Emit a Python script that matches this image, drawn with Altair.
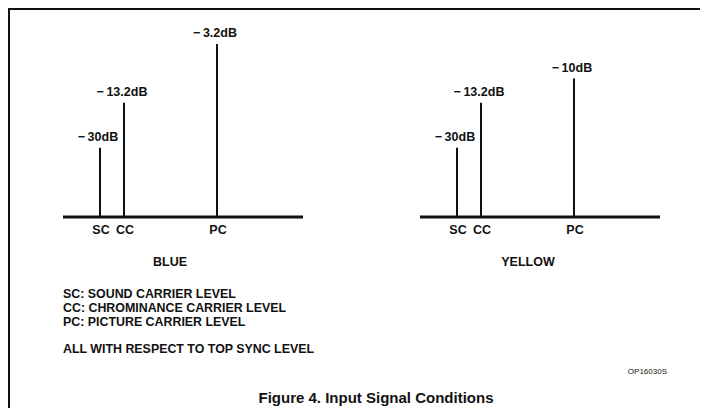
import altair as alt
import pandas as pd

# ---- data ----
panels = ["BLUE", "YELLOW"]
carriers = ["SC", "CC", "PC"]
carrier_pos = [37, 61, 154]            # relative position along the frequency axis
blue_labels = ["\u2212\u200930dB", "\u2212\u200913.2dB", "\u2212\u20093.2dB"]
yellow_labels = ["\u2212\u200930dB", "\u2212\u200913.2dB", "\u2212\u200910dB"]
blue_heights = [40, 66, 100]           # drawn relative level (schematic)
yellow_heights = [40, 66, 80]
axis_span = [0, 240]
notes = [
    "SC: SOUND CARRIER LEVEL",
    "CC: CHROMINANCE CARRIER LEVEL",
    "PC: PICTURE CARRIER LEVEL",
]
note_ref = "ALL WITH RESPECT TO TOP SYNC LEVEL"
code_id = "OP16030S"
caption = "Figure 4. Input Signal Conditions"

# ---- layout ----
panel_offset = {"BLUE": 0, "YELLOW": 357}
W, H = 692, 400
NARROW = "Liberation Sans Narrow, Liberation Sans, Arial, sans-serif"
WIDE = "Liberation Sans, Arial, sans-serif"
INK = "#111111"

rows = []
for p, labs, hs in [("BLUE", blue_labels, blue_heights), ("YELLOW", yellow_labels, yellow_heights)]:
    for c, pos, lab, h in zip(carriers, carrier_pos, labs, hs):
        rows.append({"panel": p, "carrier": c, "x": pos + panel_offset[p], "h": h, "db": lab, "zero": 0})
lines = pd.DataFrame(rows)
base = pd.DataFrame([
    {"panel": p, "x0": axis_span[0] + panel_offset[p], "x1": axis_span[1] + panel_offset[p], "zero": 0}
    for p in panels
])

xs = alt.Scale(domain=[-55, W - 55], range=[0, W])
ys = alt.Scale(domain=[-(H - 209) / 1.73, 209 / 1.73], range=[H, 0])

spikes = alt.Chart(lines).mark_rule(color=INK, strokeWidth=2).encode(
    x=alt.X("x:Q", scale=xs, axis=None),
    y=alt.Y("h:Q", scale=ys, axis=None),
    y2="zero:Q",
)
baseline = alt.Chart(base).mark_rule(color=INK, strokeWidth=3).encode(
    x=alt.X("x0:Q", scale=xs, axis=None),
    x2="x1:Q",
    y=alt.Y("zero:Q", scale=ys, axis=None),
)
db_text = alt.Chart(lines).mark_text(
    font=NARROW, fontWeight="bold", fontSize=12.5, color=INK, dy=-11, dx=-2
).encode(
    x=alt.X("x:Q", scale=xs, axis=None),
    y=alt.Y("h:Q", scale=ys, axis=None),
    text="db:N",
)
car_text = alt.Chart(lines).mark_text(
    font=NARROW, fontWeight="bold", fontSize=12.5, color=INK, dy=13, dx=1
).encode(
    x=alt.X("x:Q", scale=xs, axis=None),
    y=alt.Y("zero:Q", scale=ys, axis=None),
    text="carrier:N",
)

one = pd.DataFrame({"a": [0]})


def label(text, px, py, **kw):
    return alt.Chart(one).mark_text(text=text, color=INK, **kw).encode(
        x=alt.value(px), y=alt.value(py)
    )


annotations = [
    label(panels[0], 162, 254, font=NARROW, fontWeight="bold", fontSize=12.5),
    label(panels[1], 520, 254, font=NARROW, fontWeight="bold", fontSize=12.5),
]
for t, py in zip(notes + [note_ref], [286, 300, 314, 341]):
    annotations.append(label(t, 55, py, font=NARROW, fontWeight="bold", fontSize=12.4, align="left"))
annotations.append(label(code_id, 659, 364, font=WIDE, fontSize=8, align="right"))
annotations.append(label(caption, 368, 390, font=WIDE, fontWeight="bold", fontSize=15))

frame_top = alt.Chart(one).mark_rule(color=INK, strokeWidth=2).encode(
    x=alt.value(0), x2=alt.value(W), y=alt.value(1)
)
frame_left = alt.Chart(one).mark_rule(color=INK, strokeWidth=2).encode(
    x=alt.value(1), y=alt.value(0), y2=alt.value(H)
)

chart = alt.layer(
    frame_top, frame_left, baseline, spikes, db_text, car_text, *annotations
).properties(
    width=W, height=H, padding=0, autosize=alt.AutoSizeParams(type="none"),
    background="white",
).configure_view(strokeWidth=0)

chart.save("out.html", embed_options={"renderer": "svg", "actions": False})
